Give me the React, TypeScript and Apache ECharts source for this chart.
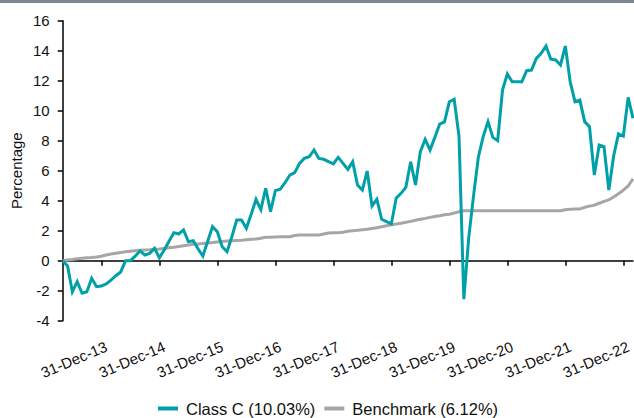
import React, { useEffect, useRef } from "react";
import * as echarts from "echarts";

// Monthly points from Apr-2013 (index 0) to Feb-2023 (index 118)
const START_YEAR = 2013;
const START_MONTH = 3; // April (0-based)
const MONTH_NAMES = ["Jan","Feb","Mar","Apr","May","Jun","Jul","Aug","Sep","Oct","Nov","Dec"];

const classC: number[] = [
  0, -0.35, -2.07, -1.4, -2.17, -2.07, -1.17, -1.73, -1.69, -1.55,
  -1.3, -1.0, -0.75, 0, 0.0, 0.3, 0.65, 0.38, 0.49, 0.82,
  0.2, 0.71, 1.3, 1.87, 1.78, 2.05, 1.27, 1.33, 0.8, 0.31,
  1.3, 2.27, 1.93, 0.93, 0.6, 1.6, 2.71, 2.71, 2.16, 3.1,
  4.09, 3.4, 4.83, 3.27, 4.67, 4.76, 5.2, 5.71, 5.87, 6.49,
  6.82, 6.93, 7.38, 6.82, 6.76, 6.6, 6.45, 6.89, 6.49, 6.09,
  6.6, 5.05, 4.71, 5.98, 3.65, 4.09, 2.76, 2.6, 2.45, 4.16,
  4.49, 4.89, 6.6, 5.05, 7.27, 8.09, 7.38, 8.22, 9.11, 9.25,
  10.6, 10.76, 8.3, -2.57, 1.5, 4.3, 6.9, 8.27, 9.27, 8.22,
  8.0, 11.38, 12.45, 11.93, 11.93, 11.93, 12.67, 12.71, 13.49, 13.83,
  14.31, 13.43, 13.38, 13.05, 14.31, 11.93, 10.6, 10.71, 9.27, 8.93,
  5.71, 7.71, 7.6, 4.71, 7.0, 8.45, 8.31, 10.89, 9.49,
];

const benchmark: number[] = [
  0, 0.04, 0.08, 0.13, 0.16, 0.19, 0.21, 0.25, 0.3, 0.38,
  0.45, 0.5, 0.55, 0.6, 0.63, 0.66, 0.69, 0.71, 0.73, 0.76,
  0.78, 0.82, 0.86, 0.9, 0.95, 1.0, 1.04, 1.09, 1.12, 1.15,
  1.18, 1.21, 1.25, 1.28, 1.31, 1.33, 1.35, 1.37, 1.4, 1.43,
  1.45, 1.5, 1.56, 1.57, 1.58, 1.59, 1.6, 1.6, 1.68, 1.71,
  1.71, 1.71, 1.71, 1.71, 1.78, 1.85, 1.87, 1.87, 1.9, 1.96,
  2.0, 2.03, 2.07, 2.1, 2.15, 2.2, 2.26, 2.33, 2.39, 2.45,
  2.5, 2.56, 2.62, 2.7, 2.76, 2.82, 2.89, 2.95, 3.0, 3.06,
  3.1, 3.18, 3.26, 3.33, 3.33, 3.33, 3.33, 3.33, 3.33, 3.33,
  3.33, 3.33, 3.33, 3.33, 3.33, 3.33, 3.33, 3.33, 3.33, 3.33,
  3.33, 3.33, 3.33, 3.33, 3.4, 3.43, 3.44, 3.45, 3.56, 3.64,
  3.7, 3.83, 3.95, 4.06, 4.25, 4.46, 4.7, 4.98, 5.46,
];

const tickLabels: string[] = [
  "31-Dec-13", "31-Dec-14", "31-Dec-15", "31-Dec-16", "31-Dec-17",
  "31-Dec-18", "31-Dec-19", "31-Dec-20", "31-Dec-21", "31-Dec-22",
];

const seriesNames = ["Class C (10.03%)", "Benchmark (6.12%)"];

const months: string[] = classC.map((_, i) => {
  const m = START_MONTH + i;
  const y = START_YEAR + Math.floor(m / 12);
  return MONTH_NAMES[m % 12] + "-" + String(y).slice(2);
});

const DEC_OFFSET = 8; // index of Dec-13
const FONT = "'Liberation Sans', Arial, Helvetica, sans-serif";

export default function App() {
  const ref = useRef<HTMLDivElement>(null);
  useEffect(() => {
    if (!ref.current) return;
    const chart = echarts.init(ref.current, undefined, { renderer: "svg" });
    chart.setOption({
      animation: false,
      backgroundColor: "#ffffff",
      textStyle: { fontFamily: FONT },
      graphic: [
        {
          type: "rect",
          left: 0,
          top: 0,
          shape: { x: 0, y: 0, width: 634, height: 3 },
          style: { fill: "#7f8891" },
        },
      ],
      grid: {
        left: 62.7,
        top: 20.7,
        right: 1,
        bottom: 97.3,
        containLabel: false,
        outerBoundsMode: "none",
      },
      legend: {
        data: seriesNames,
        left: 153,
        top: 395,
        icon: "rect",
        itemWidth: 20,
        itemHeight: 4,
        itemGap: 9,
        textStyle: { fontSize: 16.5, color: "#111", fontFamily: FONT, padding: [0, 0, 0, 3] },
      },
      xAxis: {
        type: "category",
        data: months,
        boundaryGap: false,
        axisLine: { onZero: true, lineStyle: { color: "#000", width: 1.5 } },
        axisTick: {
          show: true,
          length: 5,
          interval: (i: number) => i >= DEC_OFFSET && (i - DEC_OFFSET) % 12 === 0,
          lineStyle: { color: "#000", width: 1.5 },
        },
        axisLabel: {
          interval: (i: number) => i >= DEC_OFFSET + 1 && (i - DEC_OFFSET - 1) % 12 === 0,
          formatter: (_v: string, i: number) => tickLabels[(i - DEC_OFFSET - 1) / 12] ?? "",
          rotate: 23,
          margin: 25,
          fontSize: 15,
          color: "#111",
          fontFamily: FONT,
        },
        splitLine: { show: false },
      },
      yAxis: {
        type: "value",
        min: -4,
        max: 16,
        interval: 2,
        name: "Percentage",
        nameLocation: "middle",
        nameGap: 39,
        nameMoveOverlap: false,
        nameTextStyle: { fontSize: 15, color: "#111", fontFamily: FONT },
        axisLine: { show: true, lineStyle: { color: "#000", width: 1.5 } },
        axisTick: { show: true, length: 5, lineStyle: { color: "#000", width: 1.5 } },
        axisLabel: { fontSize: 15, color: "#111", margin: 13, fontFamily: FONT },
        splitLine: { show: false },
      },
      series: [
        {
          name: seriesNames[1],
          type: "line",
          data: benchmark,
          symbol: "none",
          lineStyle: { color: "#a6a6a6", width: 3 },
          itemStyle: { color: "#a6a6a6" },
          z: 2,
        },
        {
          name: seriesNames[0],
          type: "line",
          data: classC,
          symbol: "none",
          lineStyle: { color: "#00a0a9", width: 3, join: "miter" },
          itemStyle: { color: "#00a0a9" },
          z: 3,
        },
      ],
    });
    return () => chart.dispose();
  }, []);
  return (
    <div
      ref={ref}
      style={{ position: "fixed", left: 0, top: 0, width: 634, height: 418 }}
    />
  );
}
